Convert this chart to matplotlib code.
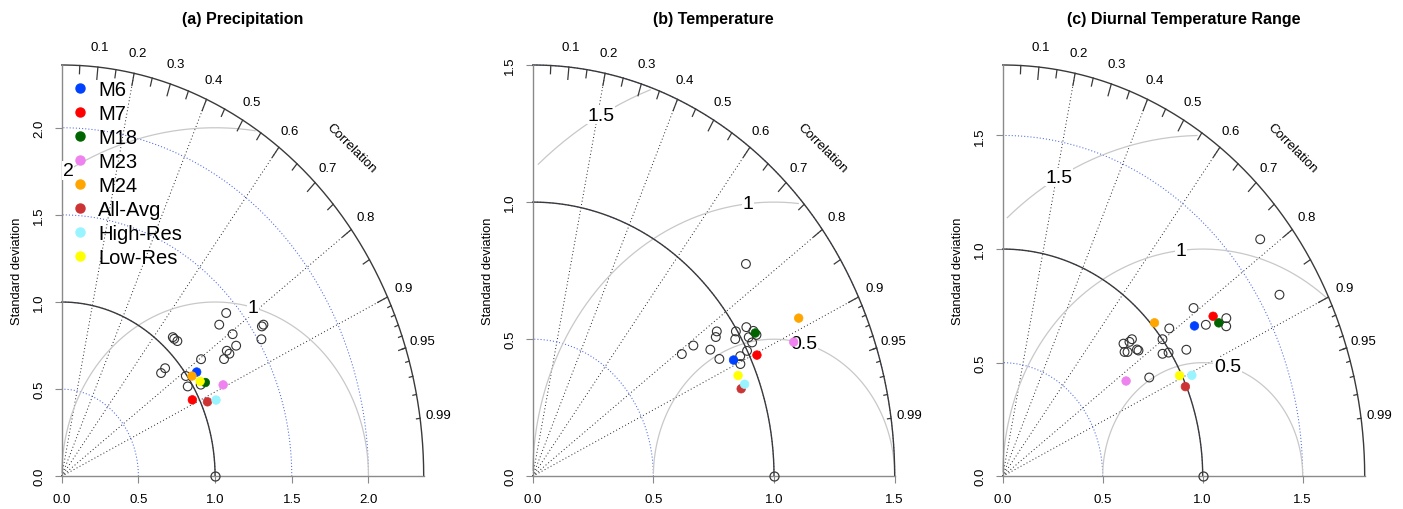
import numpy as np
import matplotlib
matplotlib.use("Agg")
import matplotlib.pyplot as plt
from matplotlib.lines import Line2D

plt.rcParams['font.family'] = ['Liberation Sans', 'DejaVu Sans']

# ---------------- data ----------------
model_names = ['M6', 'M7', 'M18', 'M23', 'M24', 'All-Avg', 'High-Res', 'Low-Res']
model_colors = ['#0040ff', '#ff0000', '#006400', '#ee82ee', '#ffa500', '#cd3333', '#98f5ff', '#ffff00']

panel_titles = ['(a) Precipitation', '(b) Temperature', '(c) Diurnal Temperature Range']
panel_max_sd = [2.36, 1.5, 1.81]
ref_sd = 1.0
rms_levels = [[1, 2], [0.5, 1, 1.5], [0.5, 1, 1.5]]
corr_lines = [0.2, 0.4, 0.6, 0.8, 0.9]
corr_labels = [0.1, 0.2, 0.3, 0.4, 0.5, 0.6, 0.7, 0.8, 0.9, 0.95, 0.99]

# highlighted models (order of model_names)
pr_model_sd = [1.064, 0.958, 1.080, 1.176, 1.026, 1.042, 1.097, 1.054]
pr_model_cor = [0.827, 0.889, 0.867, 0.895, 0.828, 0.912, 0.917, 0.856]
tas_model_sd = [0.934, 1.029, 1.060, 1.187, 1.244, 0.921, 0.940, 0.927]
tas_model_cor = [0.891, 0.903, 0.870, 0.911, 0.886, 0.938, 0.934, 0.918]
dtr_model_sd = [1.165, 1.266, 1.274, 0.746, 1.016, 0.995, 1.045, 0.989]
dtr_model_cor = [0.823, 0.831, 0.848, 0.827, 0.747, 0.918, 0.905, 0.894]

# other ensemble members (open circles)
pr_member_sd = [1.424, 1.346, 1.577, 1.563, 1.521, 1.381, 1.362, 1.295, 1.300, 1.254,
                1.130, 1.078, 1.077, 1.082, 0.916, 0.878, 0.993, 0.970, 1.048]
pr_member_cor = [0.753, 0.763, 0.834, 0.835, 0.856, 0.807, 0.835, 0.831, 0.841, 0.844,
                 0.804, 0.672, 0.681, 0.697, 0.736, 0.738, 0.815, 0.847, 0.865]
tas_member_sd = [1.175, 0.928, 0.913, 0.819, 0.762, 0.869, 0.884, 0.994, 0.977, 1.039,
                 1.057, 1.029, 1.032, 0.999, 0.965, 0.953, 1.061]
tas_member_cor = [0.752, 0.822, 0.831, 0.813, 0.811, 0.847, 0.875, 0.847, 0.859, 0.852,
                  0.865, 0.870, 0.881, 0.889, 0.891, 0.903, 0.874]
dtr_member_sd = [1.657, 1.598, 1.208, 1.215, 1.317, 1.298, 1.057, 1.001, 1.074, 0.964,
                 0.992, 0.884, 0.840, 0.867, 0.876, 0.819, 0.830, 0.873, 0.852]
dtr_member_cor = [0.777, 0.866, 0.790, 0.836, 0.849, 0.861, 0.788, 0.798, 0.855, 0.829,
                  0.836, 0.731, 0.719, 0.731, 0.775, 0.744, 0.752, 0.769, 0.860]

panels = [
    (pr_member_sd, pr_member_cor, pr_model_sd, pr_model_cor),
    (tas_member_sd, tas_member_cor, tas_model_sd, tas_model_cor),
    (dtr_member_sd, dtr_member_cor, dtr_model_sd, dtr_model_cor),
]

# ---------------- figure ----------------
W, H = 1403, 510
fig = plt.figure(figsize=(W / 100, H / 100), dpi=100)
lefts_px = [61.7, 532.7, 1002.7]
origin_y_px = 477.3
width_px, height_px = 362.0, 411.3

dark = '#3a3a3a'
axis_gray = '#8a8a8a'
blue_arc = '#4a66e6'
gamma_gray = '#c8c8c8'


def taylor_xy(sd, cor):
    sd = np.asarray(sd, float)
    cor = np.asarray(cor, float)
    return sd * cor, sd * np.sqrt(1 - cor ** 2)


for k in range(3):
    maxsd = panel_max_sd[k]
    ax = fig.add_axes([lefts_px[k] / W, (H - origin_y_px) / H, width_px / W, height_px / H])
    ax.set_xlim(0, maxsd)
    ax.set_ylim(0, maxsd)
    for s in ['top', 'right']:
        ax.spines[s].set_visible(False)
    for s in ['left', 'bottom']:
        ax.spines[s].set_color(axis_gray)
        ax.spines[s].set_linewidth(1.0)
    ticks = np.arange(0, maxsd + 1e-9, 0.5)
    ax.set_xticks(ticks)
    ax.set_yticks(ticks)
    ax.set_xticklabels(['%.1f' % t for t in ticks])
    ax.set_yticklabels(['%.1f' % t for t in ticks], rotation=90, va='center')
    ax.tick_params(direction='out', length=5, width=0.8, color=axis_gray, pad=7, labelsize=9.5)
    ax.set_ylabel('Standard deviation', fontsize=9.3, labelpad=7)
    ax.set_title(panel_titles[k], fontsize=11.5, fontweight='bold', pad=30)

    # correlation rays
    for g in corr_lines:
        ax.plot([0, maxsd * g], [0, maxsd * np.sqrt(1 - g * g)], color='#222222',
                lw=0.7, ls=(0, (1, 2.5)), zorder=1, clip_on=False)

    # standard deviation arcs
    tq = np.linspace(0, np.pi / 2, 200)
    for s in ticks[1:]:
        ax.plot(s * np.cos(tq), s * np.sin(tq), color=blue_arc, lw=0.75,
                ls=(0, (1, 2)), zorder=1, clip_on=False)

    # centred RMS difference contours
    th = np.arange(0, np.pi, 0.03)
    levels = rms_levels[k]
    labelpos = np.linspace(45, 70, len(levels)).astype(int) - 1
    for gi, g in enumerate(levels):
        xc = np.cos(th) * g + ref_sd
        yc = np.sin(th) * g
        neg = np.where(xc < 0)[0]
        end = neg.min() if len(neg) else len(th)
        out = np.where(xc * xc + yc * yc > maxsd * maxsd)[0]
        start = out.max() + 1 if len(out) else 0
        ax.plot(xc[start:end], yc[start:end], color=gamma_gray, lw=0.9, zorder=1, clip_on=False)
        if xc[labelpos[gi]] > 0:
            ax.text(xc[labelpos[gi]], yc[labelpos[gi]], '%g' % g, fontsize=14,
                    ha='center', va='center', zorder=3,
                    bbox=dict(fc='white', ec='none', pad=0.6))

    # outer arc and reference arc
    to = np.linspace(0, np.pi / 2, 300)
    ax.plot(maxsd * np.cos(to), maxsd * np.sin(to), color=dark, lw=1.0, zorder=2, clip_on=False)
    ax.plot(ref_sd * np.cos(to), ref_sd * np.sin(to), color=dark, lw=1.0, zorder=2, clip_on=False)

    # ticks on outer arc
    big = np.arccos(np.arange(0.1, 0.91, 0.1))
    med = np.arccos(np.arange(0.05, 0.96, 0.1))
    tiny = np.arccos(np.arange(0.91, 0.995, 0.01))
    for angs, f in [(big, 0.97), (med, 0.98), (tiny, 0.99)]:
        for a in angs:
            ax.plot([np.cos(a) * maxsd, np.cos(a) * f * maxsd],
                    [np.sin(a) * maxsd, np.sin(a) * f * maxsd],
                    color=dark, lw=0.9, zorder=2, clip_on=False)

    # correlation labels
    for c in corr_labels:
        a = np.arccos(c)
        ax.text(np.cos(a) * 1.05 * maxsd, np.sin(a) * 1.05 * maxsd, '%g' % c,
                fontsize=9.5, ha='center', va='center')
    ax.text(0.8 * maxsd, 0.8 * maxsd, 'Correlation', rotation=-45, fontsize=9.5,
            ha='center', va='center', rotation_mode='anchor')

    # reference point
    ax.plot([ref_sd], [0], marker='o', ms=6.5, mfc='none', mec=dark, mew=0.9,
            ls='none', zorder=4, clip_on=False)

    mem_sd, mem_cor, mod_sd, mod_cor = panels[k]
    mx, my = taylor_xy(mem_sd, mem_cor)
    ax.scatter(mx, my, s=40, facecolors='none', edgecolors='#333333', linewidths=0.8,
               zorder=4, clip_on=False)
    px, py = taylor_xy(mod_sd, mod_cor)
    ax.scatter(px, py, s=38, c=model_colors, edgecolors=model_colors, linewidths=0.5,
               zorder=5, clip_on=False)

    if k == 0:
        handles = [Line2D([], [], marker='o', ls='none', color=c, ms=6.5) for c in model_colors]
        leg = ax.legend(handles, model_names, loc='upper left', frameon=False,
                        fontsize=14.5, handlelength=1.0, handletextpad=0.4,
                        labelspacing=0.25, borderpad=0, borderaxespad=0,
                        bbox_to_anchor=((70 - lefts_px[0]) / width_px, (origin_y_px - 81) / height_px))
        leg.set_zorder(6)

fig.savefig('out.png', dpi=100)
